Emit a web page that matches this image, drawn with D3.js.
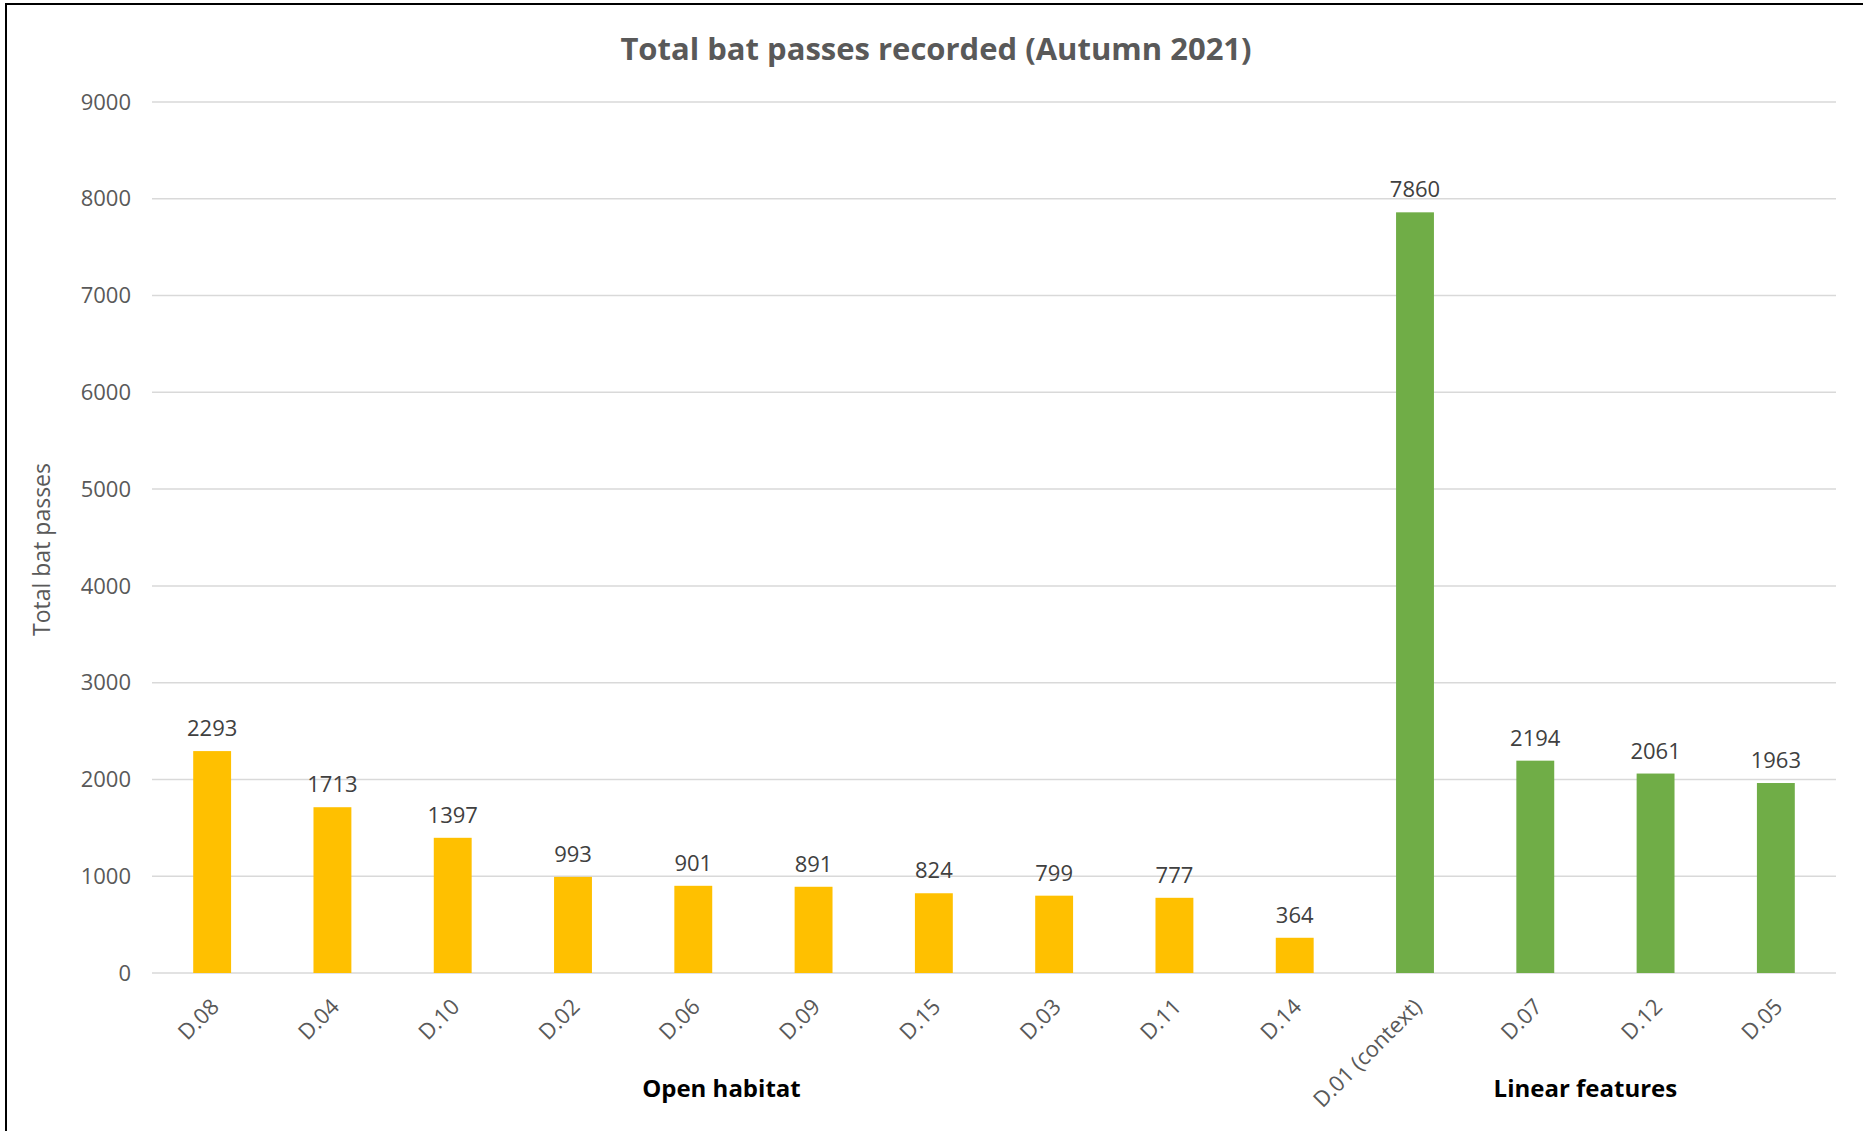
<!DOCTYPE html>
<html>
<head>
<meta charset="utf-8">
<script src="https://cdn.jsdelivr.net/npm/d3@7"></script>
<style>
  body { margin: 0; background: #fff; }
  text { font-family: "Open Sans", "Noto Sans", sans-serif; }
</style>
</head>
<body>
<svg id="chart" width="1863" height="1131"></svg>
<script>
// data
const sites  = ['D.08', 'D.04', 'D.10', 'D.02', 'D.06', 'D.09', 'D.15', 'D.03', 'D.11', 'D.14',
                'D.01 (context)', 'D.07', 'D.12', 'D.05'];
const passes = [2293, 1713, 1397, 993, 901, 891, 824, 799, 777, 364, 7860, 2194, 2061, 1963];
const habitat = ['open', 'open', 'open', 'open', 'open', 'open', 'open', 'open', 'open', 'open',
                 'linear', 'linear', 'linear', 'linear'];
const groupNames = { open: 'Open habitat', linear: 'Linear features' };
const yTicks = [0, 1000, 2000, 3000, 4000, 5000, 6000, 7000, 8000, 9000];

const colour = { open: '#FFC000', linear: '#70AD47' };

const svg = d3.select('#chart');
const plot = { left: 152, right: 1836, top: 102, bottom: 973 };

// frame (chart border, cropped on right and bottom)
svg.append('rect')
  .attr('x', 6).attr('y', 4)
  .attr('width', 1900).attr('height', 1200)
  .attr('fill', 'none')
  .attr('stroke', '#000')
  .attr('stroke-width', 2);

const x = d3.scaleBand()
  .domain(sites)
  .range([plot.left, plot.right])
  .paddingInner(0.685)
  .paddingOuter(0.3425);
const y = d3.scaleLinear()
  .domain([0, 9000])
  .range([plot.bottom, plot.top]);

// gridlines
svg.append('g')
  .selectAll('line')
  .data(yTicks)
  .join('line')
    .attr('x1', plot.left).attr('x2', plot.right)
    .attr('y1', d => y(d)).attr('y2', d => y(d))
    .attr('stroke', '#D9D9D9')
    .attr('stroke-width', 1.5);

// y tick labels
svg.append('g')
  .selectAll('text')
  .data(yTicks)
  .join('text')
    .attr('x', 131)
    .attr('y', d => y(d))
    .attr('dy', '0.35em')
    .attr('text-anchor', 'end')
    .attr('font-size', 22)
    .attr('fill', '#595959')
    .text(d => d);

// bars
svg.append('g')
  .selectAll('rect')
  .data(sites)
  .join('rect')
    .attr('x', d => x(d))
    .attr('y', (d, i) => y(passes[i]))
    .attr('width', x.bandwidth())
    .attr('height', (d, i) => y(0) - y(passes[i]))
    .attr('fill', (d, i) => colour[habitat[i]]);

// value labels
svg.append('g')
  .selectAll('text')
  .data(sites)
  .join('text')
    .attr('x', d => x(d) + x.bandwidth() / 2)
    .attr('y', (d, i) => y(passes[i]) - 15)
    .attr('text-anchor', 'middle')
    .attr('font-size', 22)
    .attr('fill', '#404040')
    .text((d, i) => passes[i]);

// x tick labels
svg.append('g')
  .selectAll('text')
  .data(sites)
  .join('text')
    .attr('transform', d => `translate(${x(d) + x.bandwidth() / 2 + 4},${plot.bottom + 31}) rotate(-45)`)
    .attr('text-anchor', 'end')
    .attr('dominant-baseline', 'middle')
    .attr('font-size', 22)
    .attr('fill', '#595959')
    .text(d => d);

// group labels under the axis
const groups = d3.groups(sites, (d, i) => habitat[sites.indexOf(d)]);
const groupOffset = { open: -32, linear: -10 };
svg.append('g')
  .selectAll('text')
  .data(groups)
  .join('text')
    .attr('x', ([g, s]) => (x(s[0]) + x(s[s.length - 1]) + x.bandwidth()) / 2 + groupOffset[g])
    .attr('y', 1097)
    .attr('text-anchor', 'middle')
    .attr('font-size', 24)
    .attr('font-weight', 'bold')
    .attr('fill', '#000')
    .text(([g]) => groupNames[g]);

// title
svg.append('text')
  .attr('x', 936)
  .attr('y', 60)
  .attr('text-anchor', 'middle')
  .attr('font-size', 31)
  .attr('font-weight', 'bold')
  .attr('fill', '#595959')
  .text('Total bat passes recorded (Autumn 2021)');

// y axis title
svg.append('text')
  .attr('transform', `translate(44,${(plot.top + plot.bottom) / 2 + 12}) rotate(-90)`)
  .attr('text-anchor', 'middle')
  .attr('dominant-baseline', 'middle')
  .attr('font-size', 23)
  .attr('fill', '#595959')
  .text('Total bat passes');
</script>
</body>
</html>
